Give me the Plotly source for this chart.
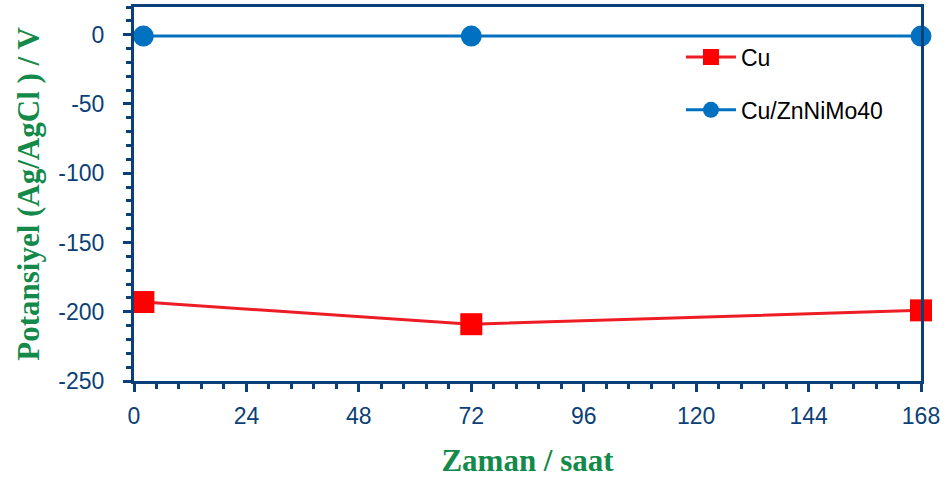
import plotly.graph_objects as go

# Time (hours) and open-circuit potential vs Ag/AgCl (mV)
hours = [2, 72, 168]
cu_potential = [-193, -209, -199]
coated_potential = [-1, -1, -1]

x_ticks = [0, 24, 48, 72, 96, 120, 144, 168]
y_ticks = [0, -50, -100, -150, -200, -250]

NAVY = "#0b3f77"
GREEN = "#138a4a"

fig = go.Figure()

fig.add_trace(go.Scatter(
    x=hours, y=cu_potential, name="Cu", mode="lines+markers",
    line=dict(color="#ee1c25", width=3),
    marker=dict(symbol="square", size=22, color="#ff0000"),
    cliponaxis=False, legend="legend",
))
fig.add_trace(go.Scatter(
    x=hours, y=coated_potential, name="Cu/ZnNiMo40", mode="lines+markers",
    line=dict(color="#0070c0", width=3),
    marker=dict(symbol="circle", size=21, color="#0070c0"),
    cliponaxis=False, legend="legend2",
))

axis_common = dict(
    showline=True, linecolor=NAVY, linewidth=3, mirror=True,
    ticks="outside", ticklen=8, tickwidth=3, tickcolor=NAVY,
    showgrid=False, zeroline=False, automargin=False,
    tickfont=dict(family="Liberation Sans, Arial", size=23, color=NAVY),
)

fig.update_xaxes(
    range=[0, 168], tickmode="array", tickvals=x_ticks,
    ticktext=[str(t) for t in x_ticks],
    minor=dict(dtick=4.8, tick0=0, ticks="outside", ticklen=5,
               tickwidth=3, tickcolor=NAVY, showgrid=False),
    title=dict(text="<b>Zaman / saat</b>", standoff=22,
               font=dict(family="Liberation Serif, Times New Roman", size=31, color=GREEN)),
    ticklabelstandoff=4,
    **axis_common,
)
fig.update_yaxes(
    range=[-250, 20], tickmode="array", tickvals=y_ticks,
    ticktext=[str(t) for t in y_ticks],
    minor=dict(dtick=10, tick0=0, ticks="outside", ticklen=5,
               tickwidth=3, tickcolor=NAVY, showgrid=False),
    title=dict(text="<b>Potansiyel (Ag/AgCl ) / V</b>", standoff=10,
               font=dict(family="Liberation Serif, Times New Roman", size=31, color=GREEN)),
    ticklabelstandoff=14,
    **axis_common,
)

legend_style = dict(
    xanchor="left", yanchor="middle", bgcolor="rgba(0,0,0,0)",
    font=dict(family="Liberation Sans, Arial", size=23, color="#000000"),
    itemwidth=50,
)

fig.update_layout(
    width=947, height=479,
    margin=dict(l=134, r=26, t=7, b=98),
    paper_bgcolor="white", plot_bgcolor="white",
    showlegend=True,
    legend=dict(x=0.695, y=0.866, **legend_style),
    legend2=dict(x=0.695, y=0.725, **legend_style),
)

fig.write_html("out.html")
